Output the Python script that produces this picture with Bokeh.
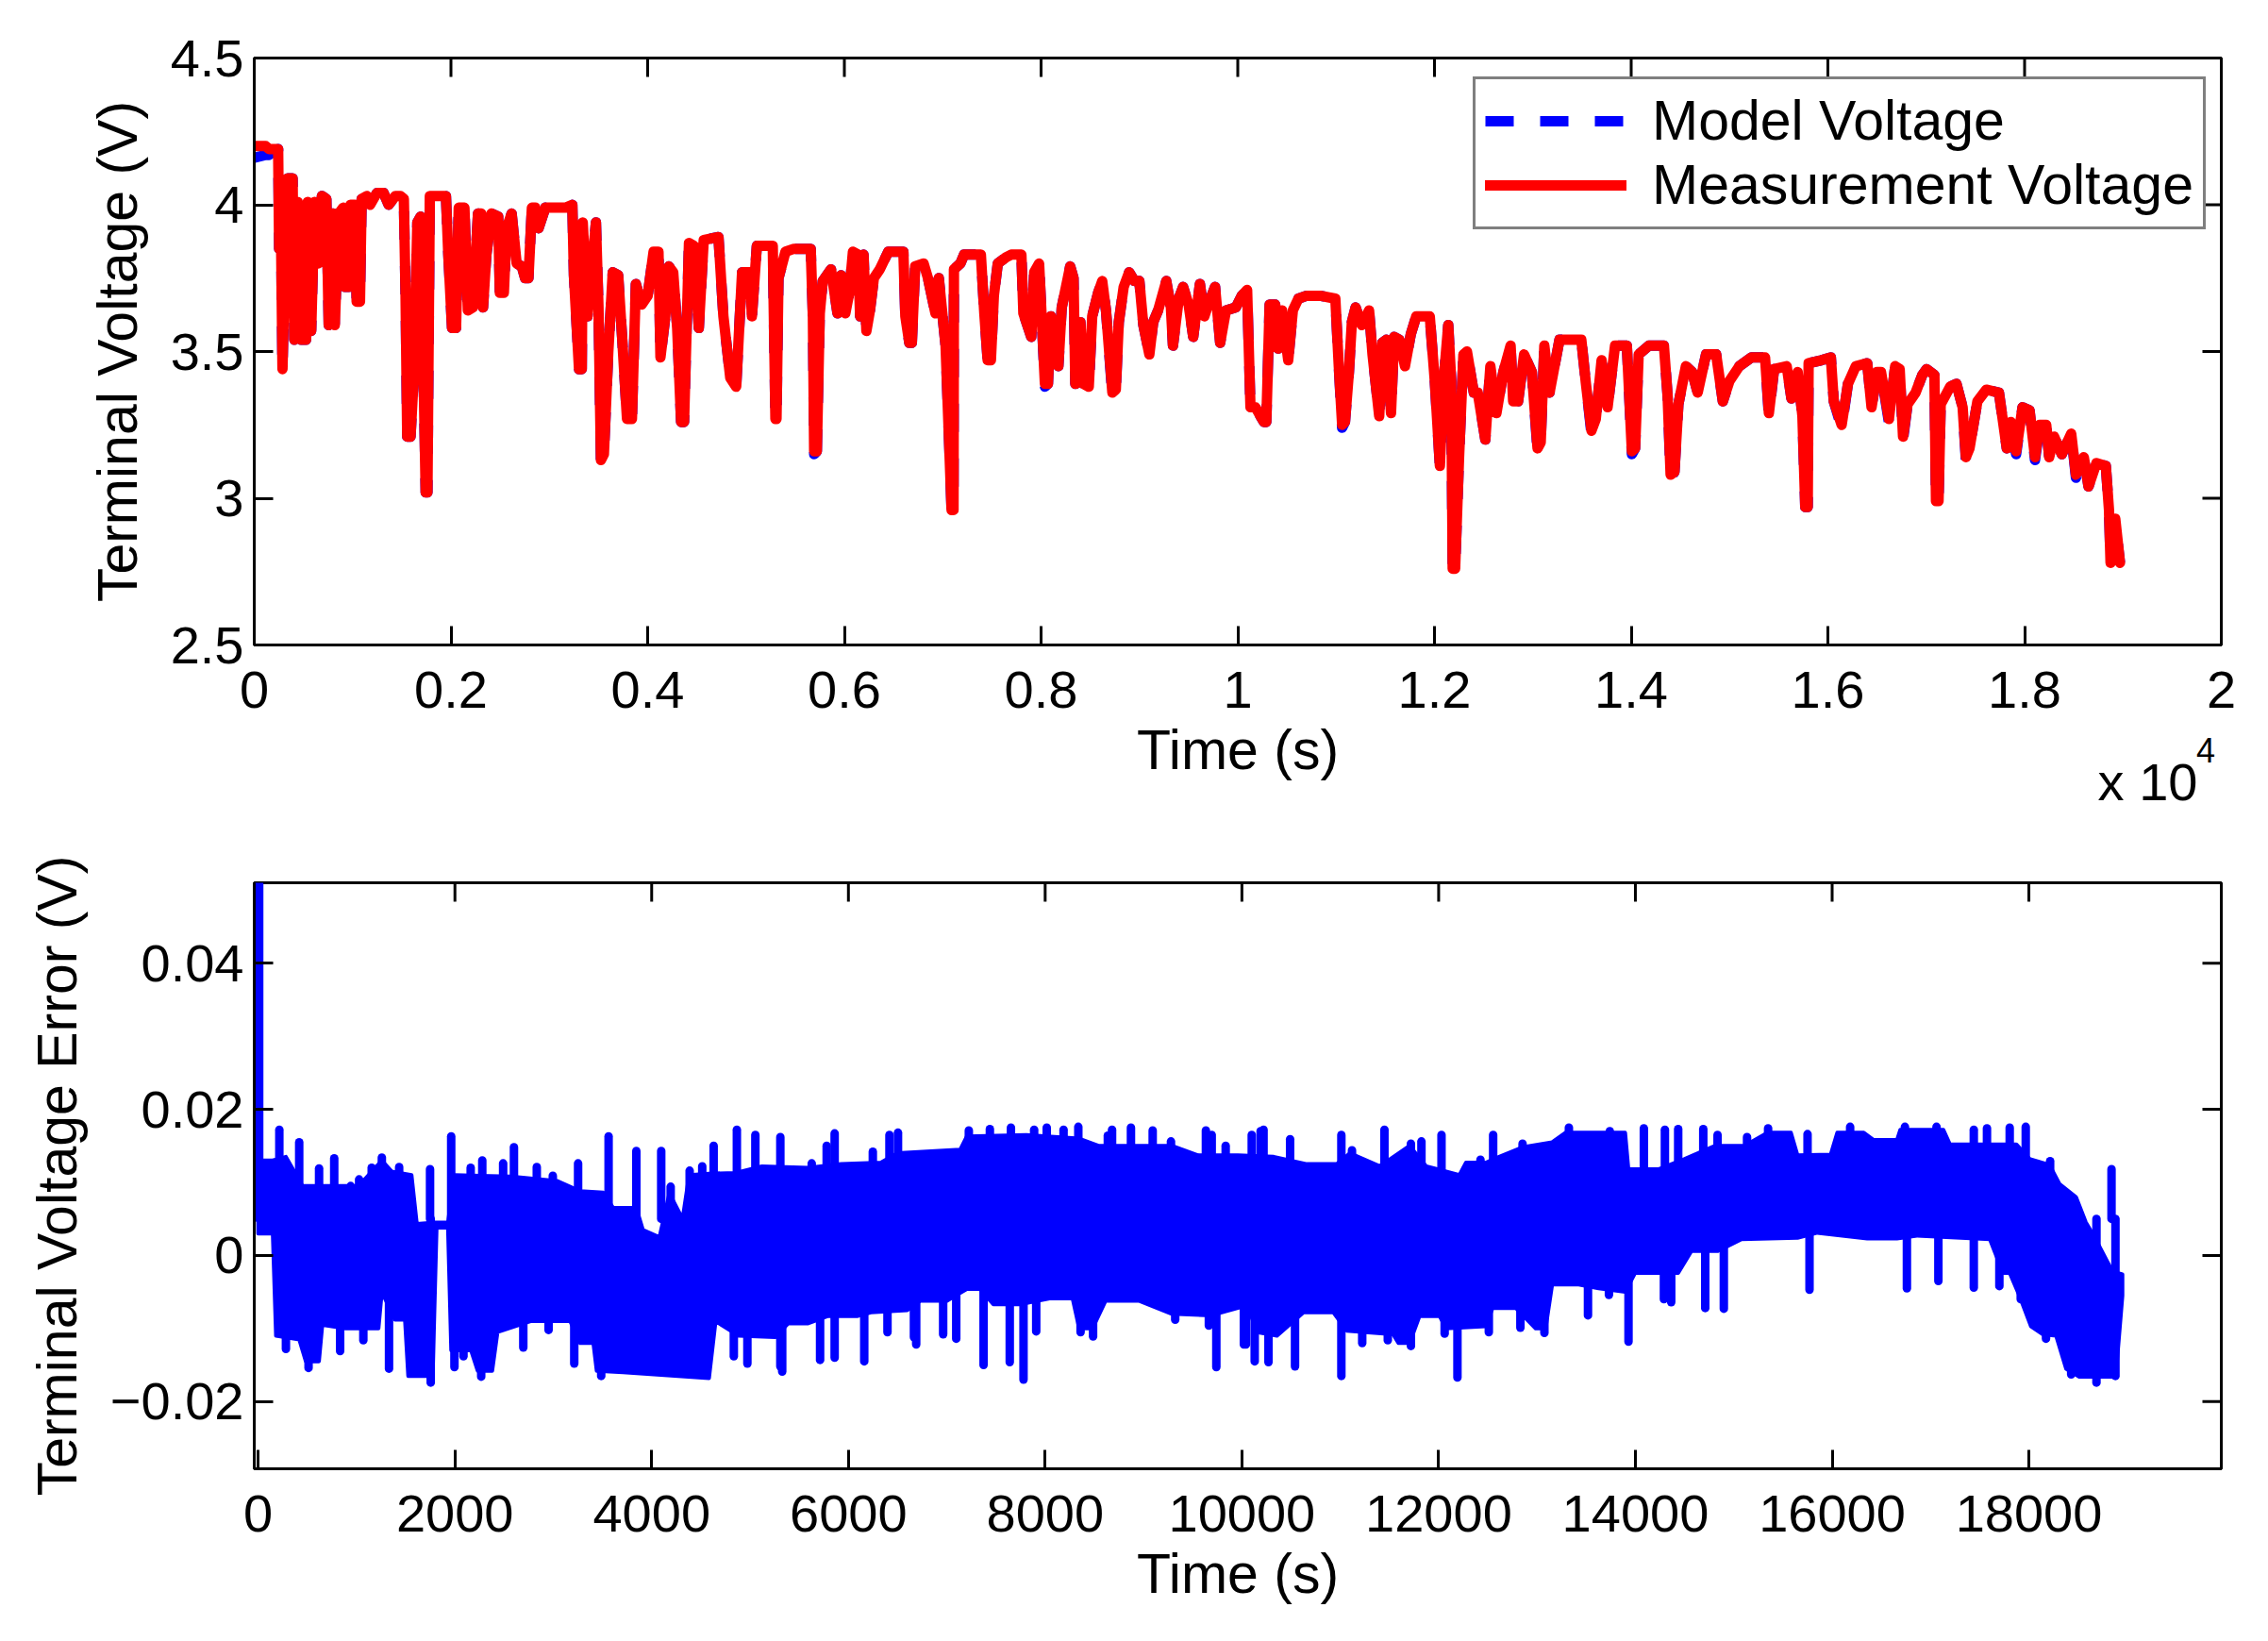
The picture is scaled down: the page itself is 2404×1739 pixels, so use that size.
from bokeh.plotting import figure
from bokeh.layouts import column
from bokeh.models import FixedTicker, Legend, LegendItem, LinearAxis, Range1d
from bokeh.embed import file_html
from bokeh.resources import INLINE

FONT = "Liberation Sans"
TICK_SIZE = "56px"
LABEL_SIZE = "59px"

measured_0_5k = [
    (0, 4.20), (116, 4.20), (150, 4.19), (243, 4.19), (253, 3.85), (270, 3.97), (287, 3.44),
    (315, 3.85), (339, 4.09), (390, 4.09), (407, 3.54), (442, 4.01), (476, 3.54), (527, 3.54),
    (544, 4.01), (579, 3.57), (613, 4.01), (647, 3.80), (688, 4.03), (733, 4.02), (757, 3.59),
    (801, 3.97), (819, 3.59), (860, 3.97), (904, 3.99), (921, 3.72), (962, 3.72), (979, 4.00),
    (1024, 4.00), (1041, 3.67), (1075, 3.67), (1092, 4.02), (1144, 4.03), (1178, 4.00),
    (1247, 4.04), (1315, 4.04), (1367, 4.00), (1435, 4.03), (1486, 4.03), (1521, 4.02),
    (1538, 3.70), (1555, 3.21), (1589, 3.21), (1624, 3.43), (1658, 3.94), (1692, 3.96),
    (1743, 3.02), (1761, 3.02), (1785, 4.03), (1949, 4.03), (1973, 3.83), (2011, 3.58),
    (2052, 3.58), (2079, 3.99), (2137, 3.99), (2172, 3.64), (2223, 3.65), (2275, 3.97),
    (2309, 3.97), (2326, 3.65), (2360, 3.83), (2412, 3.97), (2480, 3.96), (2497, 3.70),
    (2538, 3.70), (2566, 3.92), (2617, 3.97), (2668, 3.80), (2720, 3.79), (2754, 3.75),
    (2788, 3.75), (2823, 3.99), (2857, 3.99), (2891, 3.92), (2960, 3.99), (3165, 3.99),
    (3234, 4.00), (3250, 3.76), (3302, 3.44), (3330, 3.44), (3340, 3.94), (3388, 3.62),
    (3474, 3.94), (3500, 3.65), (3525, 3.13), (3555, 3.15), (3600, 3.50), (3645, 3.77),
    (3700, 3.76), (3740, 3.55), (3790, 3.27), (3840, 3.27), (3880, 3.73), (3940, 3.66),
    (4000, 3.69), (4060, 3.84), (4110, 3.84), (4130, 3.48), (4180, 3.62), (4215, 3.79),
    (4260, 3.77), (4300, 3.58), (4340, 3.26), (4370, 3.26), (4420, 3.87), (4470, 3.86),
    (4520, 3.58), (4570, 3.88), (4720, 3.89), (4770, 3.62), (4840, 3.41), (4900, 3.38),
    (4960, 3.77), (5040, 3.77), (5060, 3.62), (5110, 3.86), (5272, 3.86), (5299, 3.27),
]
measured_5k_10k = [
    (5310, 3.27), (5330, 3.75), (5401, 3.84), (5487, 3.85), (5658, 3.85), (5680, 3.62),
    (5693, 3.16), (5720, 3.16), (5750, 3.63), (5780, 3.74), (5864, 3.78), (5930, 3.63),
    (5966, 3.76), (6010, 3.63), (6050, 3.70), (6087, 3.84), (6140, 3.83), (6160, 3.62),
    (6180, 3.62), (6195, 3.83), (6224, 3.57), (6260, 3.64), (6300, 3.75), (6360, 3.78),
    (6446, 3.84), (6600, 3.84), (6620, 3.62), (6660, 3.53), (6686, 3.53), (6720, 3.79),
    (6806, 3.80), (6850, 3.75), (6926, 3.63), (6960, 3.75), (7029, 3.52), (7090, 2.96),
    (7110, 2.96), (7114, 3.78), (7180, 3.80), (7217, 3.83), (7388, 3.83), (7423, 3.63),
    (7457, 3.47), (7490, 3.47), (7520, 3.69), (7560, 3.80), (7640, 3.82), (7697, 3.83),
    (7800, 3.83), (7820, 3.63), (7860, 3.59), (7900, 3.55), (7930, 3.77), (7980, 3.80),
    (8039, 3.39), (8070, 3.39), (8100, 3.62), (8130, 3.55), (8176, 3.45), (8210, 3.65),
    (8296, 3.79), (8330, 3.75), (8348, 3.39), (8400, 3.60), (8430, 3.39), (8485, 3.38),
    (8520, 3.62), (8580, 3.70), (8622, 3.74), (8660, 3.64), (8725, 3.36), (8760, 3.37),
    (8790, 3.60), (8840, 3.72), (8896, 3.77), (8950, 3.74), (8999, 3.74), (9040, 3.59),
    (9101, 3.49), (9140, 3.60), (9190, 3.64), (9273, 3.74), (9320, 3.65), (9341, 3.52),
    (9400, 3.68), (9444, 3.72), (9500, 3.66), (9547, 3.55), (9615, 3.73), (9660, 3.62),
    (9700, 3.66), (9769, 3.72), (9821, 3.53), (9880, 3.64), (9980, 3.65), (10040, 3.69),
    (10095, 3.71), (10129, 3.31), (10180, 3.31), (10230, 3.28), (10266, 3.26),
]
measured_10k_15k = [
    (10290, 3.26), (10324, 3.66), (10380, 3.66), (10410, 3.51), (10450, 3.64), (10513, 3.47),
    (10560, 3.64), (10616, 3.68), (10700, 3.69), (10838, 3.69), (10992, 3.68), (11027, 3.45),
    (11061, 3.25), (11090, 3.26), (11130, 3.43), (11160, 3.60), (11198, 3.65), (11260, 3.59),
    (11335, 3.64), (11370, 3.49), (11438, 3.28), (11470, 3.53), (11510, 3.54), (11558, 3.29),
    (11590, 3.55), (11643, 3.54), (11700, 3.45), (11760, 3.56), (11815, 3.62), (11952, 3.62),
    (12003, 3.40), (12055, 3.11), (12090, 3.39), (12140, 3.59), (12170, 3.40), (12185, 2.76),
    (12210, 2.76), (12250, 3.14), (12294, 3.49), (12330, 3.50), (12400, 3.36), (12440, 3.36),
    (12517, 3.20), (12568, 3.45), (12630, 3.29), (12700, 3.43), (12774, 3.52), (12800, 3.33),
    (12850, 3.33), (12911, 3.49), (12990, 3.43), (13048, 3.17), (13080, 3.19), (13117, 3.52),
    (13170, 3.36), (13271, 3.54), (13493, 3.54), (13540, 3.39), (13596, 3.23), (13640, 3.27),
    (13699, 3.47), (13760, 3.31), (13836, 3.52), (13956, 3.52), (14007, 3.16), (14040, 3.17),
    (14076, 3.49), (14179, 3.52), (14333, 3.52), (14370, 3.35), (14401, 3.08), (14440, 3.09),
    (14480, 3.32), (14556, 3.45), (14620, 3.43), (14676, 3.36), (14761, 3.49), (14864, 3.49),
    (14932, 3.33), (15000, 3.40), (15100, 3.45), (15223, 3.48), (15361, 3.48), (15400, 3.29),
]
measured_15k_19k = [
    (15453, 3.44), (15581, 3.45), (15629, 3.34), (15693, 3.43), (15741, 3.28), (15770, 2.97),
    (15795, 2.97), (15804, 3.46), (15932, 3.47), (16030, 3.48), (16060, 3.33), (16140, 3.25),
    (16204, 3.39), (16284, 3.45), (16400, 3.46), (16444, 3.31), (16500, 3.43), (16540, 3.43),
    (16620, 3.27), (16684, 3.45), (16730, 3.44), (16764, 3.21), (16810, 3.32), (16892, 3.36),
    (16960, 3.42), (17003, 3.44), (17083, 3.42), (17099, 2.99), (17125, 2.99), (17147, 3.32),
    (17243, 3.38), (17307, 3.39), (17370, 3.31), (17403, 3.14), (17440, 3.17), (17520, 3.33),
    (17611, 3.37), (17739, 3.36), (17819, 3.17), (17860, 3.26), (17914, 3.16), (17979, 3.31),
    (18050, 3.30), (18106, 3.14), (18154, 3.25), (18220, 3.25), (18250, 3.14), (18300, 3.21),
    (18378, 3.15), (18474, 3.22), (18522, 3.08), (18602, 3.14), (18650, 3.04), (18730, 3.12),
    (18826, 3.11), (18858, 2.96), (18874, 2.78), (18922, 2.93), (18970, 2.78),
]

# model voltage follows the measurement except where it peeks out below it
model_differs = {
    0: 4.16, 116: 4.17, 150: 4.17, 3525: 3.12, 5693: 3.15, 8039: 3.38, 8485: 3.37,
    8725: 3.35, 11061: 3.24, 12185: 2.75, 13048: 3.16, 13596: 3.22, 14007: 3.15,
    14401: 3.07, 15400: 3.28, 16140: 3.24, 16620: 3.26, 16764: 3.20, 17403: 3.13,
    17914: 3.15, 18106: 3.13, 18522: 3.07, 18922: 2.92,
}

# voltage error band (time s, error V): upper and lower edges of the dense trace
error_upper = [
    (0, 0.0130), (148, 0.0130), (282, 0.0135), (450, 0.0095), (753, 0.0095), (1021, 0.0095),
    (1257, 0.0130), (1357, 0.0115), (1559, 0.0110), (1613, 0.0043), (1794, 0.0045),
    (1929, 0.0045), (1996, 0.0110), (2567, 0.0108), (3037, 0.0102), (3273, 0.0088),
    (3508, 0.0086), (3609, 0.0065), (3844, 0.0065), (3911, 0.0035), (4079, 0.0025),
    (4180, 0.0085), (4314, 0.0050), (4381, 0.0110), (4583, 0.0112), (4852, 0.0113),
    (5121, 0.0122), (5591, 0.0120), (5927, 0.0125), (6330, 0.0127), (6498, 0.0140),
    (7137, 0.0145), (7204, 0.0163), (7809, 0.0165), (8346, 0.0160), (8548, 0.0150),
    (9287, 0.0150), (9556, 0.0137), (9959, 0.0137), (10324, 0.0135), (10661, 0.0125),
    (10964, 0.0125), (11099, 0.0140), (11402, 0.0122), (11705, 0.0150), (11874, 0.0122),
    (12211, 0.0110), (12278, 0.0127), (12480, 0.0127), (12615, 0.0135), (12851, 0.0148),
    (13154, 0.0155), (13289, 0.0168), (13896, 0.0168), (13929, 0.0118), (14233, 0.0118),
    (14502, 0.0132), (14806, 0.0150), (15109, 0.0150), (15345, 0.0168), (15581, 0.0168),
    (15648, 0.0137), (15985, 0.0138), (16052, 0.0168), (16322, 0.0168), (16423, 0.0158),
    (16659, 0.0158), (16693, 0.0172), (17131, 0.0172), (17198, 0.0152), (17872, 0.0152),
    (18007, 0.0132), (18209, 0.0124), (18310, 0.0098), (18479, 0.0080), (18580, 0.0045),
    (18647, 0.0030), (18715, 0.0013), (18850, -0.0022), (18951, -0.0026),
]
error_lower = [
    (0, 0.0030), (148, 0.0030), (181, -0.0110), (417, -0.0115), (484, -0.0145),
    (618, -0.0145), (652, -0.0095), (887, -0.0100), (1223, -0.0100), (1257, -0.0050),
    (1391, -0.0088), (1492, -0.0088), (1525, -0.0165), (1774, -0.0165), (1814, 0.0038),
    (1929, 0.0038), (1962, -0.0130), (2164, -0.0130), (2231, -0.0158), (2379, -0.0158),
    (2433, -0.0105), (2769, -0.0090), (3172, -0.0090), (3273, -0.0120), (3407, -0.0120),
    (3441, -0.0158), (3709, -0.0160), (4583, -0.0168), (4650, -0.0090), (4885, -0.0110),
    (5255, -0.0112), (5389, -0.0093), (5591, -0.0093), (5793, -0.0083), (6095, -0.0083),
    (6229, -0.0078), (6599, -0.0075), (6733, -0.0062), (7002, -0.0062), (7204, -0.0046),
    (7338, -0.0046), (7473, -0.0067), (7741, -0.0067), (8044, -0.0059), (8279, -0.0059),
    (8346, -0.0100), (8481, -0.0100), (8615, -0.0062), (8951, -0.0062), (9287, -0.0080),
    (9690, -0.0082), (9959, -0.0072), (10054, -0.0068), (10155, -0.0105), (10357, -0.0110),
    (10627, -0.0078), (10930, -0.0078), (11065, -0.0103), (11537, -0.0108), (11591, -0.0120),
    (11705, -0.0120), (11806, -0.0083), (12009, -0.0083), (12076, -0.0100), (12480, -0.0097),
    (12548, -0.0072), (12784, -0.0072), (12986, -0.0100), (13087, -0.0100), (13154, -0.0040),
    (13424, -0.0040), (13626, -0.0045), (13896, -0.0050), (13997, -0.0024), (14435, -0.0024),
    (14570, 0.0006), (14839, 0.0006), (15075, 0.0022), (15648, 0.0024), (15850, 0.0031),
    (16356, 0.0023), (16659, 0.0023), (16861, 0.0027), (17603, 0.0022), (17737, -0.0024),
    (17805, -0.0024), (17906, -0.0056), (18021, -0.0097), (18142, -0.0108), (18277, -0.0110),
    (18378, -0.0155), (18512, -0.0166), (18883, -0.0166), (18951, -0.0055),
]
# single samples that stick out of the band
error_spikes_up = [
    (10, 0.0550), (215, 0.0172), (417, 0.0155), (619, 0.0119), (773, 0.0133), (940, 0.0095),
    (1026, 0.0104), (1154, 0.0120), (1257, 0.0134), (1433, 0.0121), (1747, 0.0118),
    (1962, 0.0163), (2160, 0.0120), (2278, 0.0130), (2490, 0.0126), (2600, 0.0148),
    (2832, 0.0121), (2995, 0.0109), (3252, 0.0126), (3562, 0.0163), (3844, 0.0143),
    (4097, 0.0143), (4193, 0.0094), (4386, 0.0116), (4514, 0.0122), (4630, 0.0150),
    (4866, 0.0172), (5054, 0.0165), (5308, 0.0162), (5627, 0.0126), (5779, 0.0150),
    (5860, 0.0167), (6248, 0.0142), (6417, 0.0165), (6504, 0.0168), (7224, 0.0171),
    (7438, 0.0173), (7652, 0.0175), (7888, 0.0172), (8016, 0.0175), (8187, 0.0172),
    (8337, 0.0176), (8637, 0.0164), (8680, 0.0172), (8872, 0.0175), (9093, 0.0171),
    (9279, 0.0156), (9634, 0.0171), (9693, 0.0165), (9835, 0.0150), (10100, 0.0165),
    (10190, 0.0170), (10220, 0.0172), (10490, 0.0159), (11011, 0.0165), (11119, 0.0144),
    (11449, 0.0172), (11718, 0.0153), (11825, 0.0156), (12029, 0.0165), (12425, 0.0131),
    (12554, 0.0165), (12853, 0.0153), (13324, 0.0175), (13740, 0.0170), (14086, 0.0174),
    (14300, 0.0172), (14435, 0.0173), (14690, 0.0173), (14835, 0.0165), (15135, 0.0162),
    (15349, 0.0174), (15750, 0.0166), (16183, 0.0176), (16740, 0.0176), (17061, 0.0176),
    (17440, 0.0172), (17574, 0.0174), (17805, 0.0175), (17968, 0.0176), (18216, 0.0129),
    (18840, 0.0118),
]
error_spikes_down = [
    (282, -0.0128), (512, -0.0154), (833, -0.0131), (1069, -0.0116), (1330, -0.0155),
    (1754, -0.0174), (1995, -0.0153), (2087, -0.0138), (2267, -0.0166), (2695, -0.0126),
    (2952, -0.0102), (3213, -0.0148), (3487, -0.0165), (4835, -0.0138), (4973, -0.0148),
    (5308, -0.0152), (5327, -0.0159), (5712, -0.0143), (5860, -0.0140), (6161, -0.0145),
    (6397, -0.0105), (6666, -0.0112), (6689, -0.0122), (6963, -0.0108), (7096, -0.0114),
    (7374, -0.0150), (7640, -0.0146), (7780, -0.0170), (7909, -0.0104), (8360, -0.0105),
    (8487, -0.0111), (9322, -0.0088), (9664, -0.0096), (9740, -0.0153), (10020, -0.0122),
    (10041, -0.0122), (10130, -0.0145), (10270, -0.0146), (10540, -0.0152), (11011, -0.0165),
    (11223, -0.0120), (11483, -0.0116), (11718, -0.0124), (12061, -0.0107), (12191, -0.0167),
    (12510, -0.0105), (12831, -0.0099), (13075, -0.0106), (13518, -0.0082), (13731, -0.0054),
    (13930, -0.0118), (14290, -0.0060), (14364, -0.0064), (14710, -0.0072), (14899, -0.0073),
    (15770, -0.0047), (16760, -0.0045), (17080, -0.0035), (17440, -0.0044), (17700, -0.0042),
    (17917, -0.0060), (18174, -0.0114), (18430, -0.0163), (18687, -0.0174), (18880, -0.0165),
]
SPIKE_BASE = 0.005

top_xticks = [0, 2000, 4000, 6000, 8000, 10000, 12000, 14000, 16000, 18000, 20000]
top_xlabels = ["0", "0.2", "0.4", "0.6", "0.8", "1", "1.2", "1.4", "1.6", "1.8", "2"]
top_yticks = [2.5, 3, 3.5, 4, 4.5]
top_ylabels = ["2.5", "3", "3.5", "4", "4.5"]
bot_xticks = [0, 2000, 4000, 6000, 8000, 10000, 12000, 14000, 16000, 18000]
bot_xlabels = ["0", "2000", "4000", "6000", "8000", "10000", "12000", "14000", "16000", "18000"]
bot_yticks = [-0.02, 0, 0.02, 0.04]
bot_ylabels = ["\u22120.02", "0", "0.02", "0.04"]

FRAME_W = 2085
TICK_LEN = 20


def style(p, xticks, xlabels, yticks, ylabels, ylabel, frame_h):
    p.xgrid.visible = False
    p.ygrid.visible = False
    p.outline_line_color = "black"
    p.outline_line_width = 3
    xa, ya = p.xaxis[0], p.yaxis[0]
    xa.ticker = FixedTicker(ticks=xticks)
    xa.major_label_overrides = dict(zip(xticks, xlabels))
    ya.ticker = FixedTicker(ticks=yticks)
    ya.major_label_overrides = dict(zip(yticks, ylabels))
    for ax in (xa, ya):
        ax.axis_line_width = 3
        ax.major_tick_line_width = 3
        ax.major_tick_in = TICK_LEN
        ax.major_tick_out = 0
        ax.minor_tick_line_color = None
        ax.major_label_text_font = FONT
        ax.major_label_text_font_size = TICK_SIZE
        ax.major_label_text_color = "black"
        ax.axis_label_text_font = FONT
        ax.axis_label_text_font_size = LABEL_SIZE
        ax.axis_label_text_font_style = "normal"
        ax.axis_label_text_color = "black"
    xa.axis_label = "Time (s)"
    xa.major_label_standoff = 28
    xa.axis_label_standoff = 9
    ya.axis_label = ylabel
    ya.major_label_standoff = 11
    ya.axis_label_standoff = 20

    # matching inward ticks on the top and right edges of the box
    x0, x1 = p.x_range.start, p.x_range.end
    y0, y1 = p.y_range.start, p.y_range.end
    dy = TICK_LEN * (y1 - y0) / frame_h
    dx = TICK_LEN * (x1 - x0) / FRAME_W
    p.segment(x0=xticks, y0=[y1] * len(xticks), x1=xticks, y1=[y1 - dy] * len(xticks),
              line_color="black", line_width=3)
    p.segment(x0=[x1] * len(yticks), y0=yticks, x1=[x1 - dx] * len(yticks), y1=yticks,
              line_color="black", line_width=3)


def text_axis(p, at, text, size, standoff):
    # a bare tick label below the x axis, used for the exponent note
    ax = LinearAxis(ticker=FixedTicker(ticks=[at]), major_label_overrides={at: text})
    ax.axis_line_color = None
    ax.major_tick_line_color = None
    ax.minor_tick_line_color = None
    ax.major_label_text_font = FONT
    ax.major_label_text_font_size = size
    ax.major_label_text_color = "black"
    ax.major_label_standoff = standoff
    p.add_layout(ax, "below")


# upper panel: voltages
p1 = figure(frame_width=FRAME_W, frame_height=622, min_border_left=269, min_border_right=42,
            min_border_top=61, min_border_bottom=177,
            x_range=Range1d(0, 20000), y_range=Range1d(2.5, 4.5),
            output_backend="svg", toolbar_location=None)
style(p1, top_xticks, top_xlabels, top_yticks, top_ylabels, "Terminal Voltage (V)", 622)

meas = measured_0_5k + measured_5k_10k + measured_10k_15k + measured_15k_19k
meas_t = [t for t, v in meas]
meas_v = [v for t, v in meas]
model_v = [model_differs.get(t, v) for t, v in meas]

model_r = p1.line(meas_t, model_v, line_color="#0000ff", line_width=11, line_dash="30 28",
                  line_join="round")
meas_r = p1.line(meas_t, meas_v, line_color="#ff0000", line_width=11, line_join="round",
                 line_cap="round")

legend = Legend(items=[LegendItem(label="Model Voltage", renderers=[model_r]),
                       LegendItem(label="Measurement Voltage", renderers=[meas_r])],
                location=(1292, 440))
legend.label_text_font = FONT
legend.label_text_font_size = "59px"
legend.label_text_color = "black"
legend.glyph_width = 150
legend.glyph_height = 40
legend.label_standoff = 27
legend.padding = 10
legend.spacing = 0
legend.margin = 0
legend.border_line_color = "black"
legend.border_line_width = 3
legend.background_fill_alpha = 1.0
p1.add_layout(legend)

text_axis(p1, 19252, "x 10", "56px", -40)
text_axis(p1, 19842, "4", "36px", -87)

# lower panel: voltage error
p2 = figure(frame_width=FRAME_W, frame_height=621, min_border_left=269, min_border_right=42,
            min_border_top=73, min_border_bottom=171,
            x_range=Range1d(-40, 19956), y_range=Range1d(-0.0292, 0.0510),
            output_backend="svg", toolbar_location=None)
style(p2, bot_xticks, bot_xlabels, bot_yticks, bot_ylabels, "Terminal Voltage Error (V)", 621)

band_t = [t for t, e in error_upper] + [t for t, e in reversed(error_lower)]
band_e = [e for t, e in error_upper] + [e for t, e in reversed(error_lower)]
p2.patch(band_t, band_e, fill_color="#0000ff", line_color="#0000ff", line_width=4,
         line_join="round")

spikes = error_spikes_up + error_spikes_down
p2.segment(x0=[t for t, e in spikes], y0=[SPIKE_BASE] * len(spikes),
           x1=[t for t, e in spikes], y1=[e for t, e in spikes],
           line_color="#0000ff", line_width=9, line_cap="round")

layout = column(p1, p2, spacing=0)
open("out.html", "w").write(file_html(layout, INLINE))
